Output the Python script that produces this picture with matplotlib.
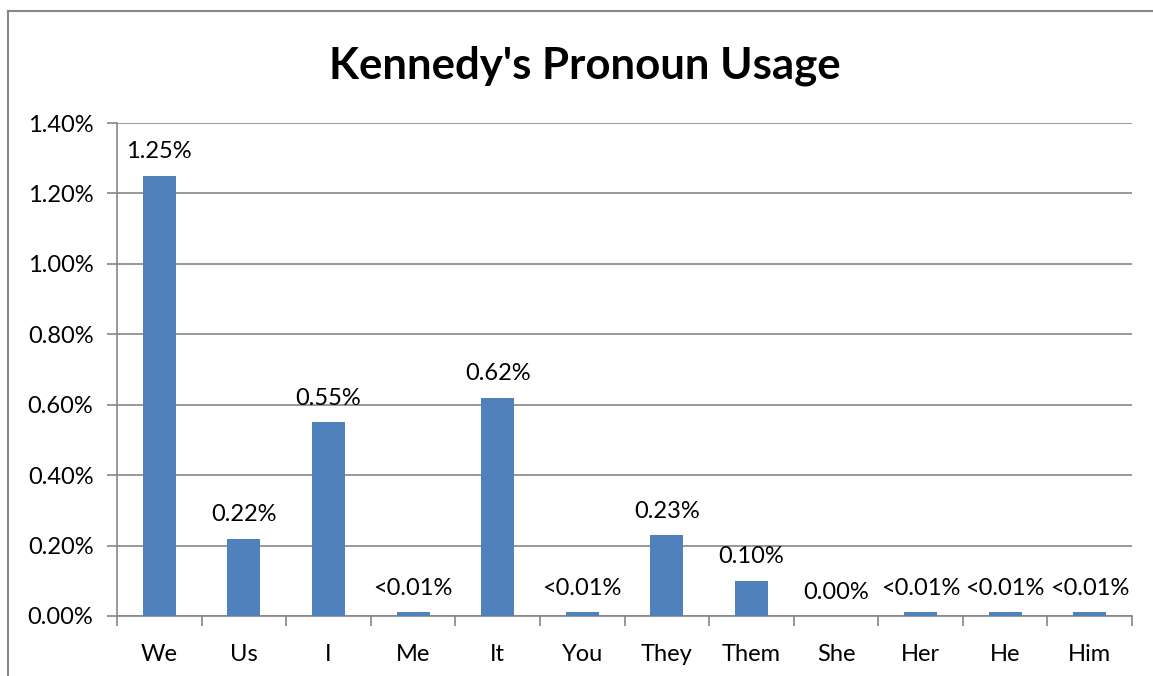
import matplotlib.pyplot as plt
from matplotlib.lines import Line2D
from matplotlib.ticker import FuncFormatter, MultipleLocator

pronouns = ["We", "Us", "I", "Me", "It", "You", "They", "Them", "She", "Her", "He", "Him"]
usage = [1.25, 0.22, 0.55, 0.01, 0.62, 0.01, 0.23, 0.10, 0.00, 0.01, 0.01, 0.01]
labels = ["1.25%", "0.22%", "0.55%", "<0.01%", "0.62%", "<0.01%", "0.23%", "0.10%",
          "0.00%", "<0.01%", "<0.01%", "<0.01%"]

plt.rcParams['font.family'] = ['Lato', 'DejaVu Sans']

fig = plt.figure(figsize=(11.53, 6.76), dpi=100)
ax = fig.add_axes([0.1015, 0.0888, 0.8803, 0.7292])

x = range(len(pronouns))
ax.bar(x, usage, width=0.39, color="#4F81BD", zorder=3)

for i, (v, s) in enumerate(zip(usage, labels)):
    ax.text(i, v + 0.038, s, ha="center", va="bottom", fontsize=17, color="black")

ax.set_xlim(-0.5, len(pronouns) - 0.5)
ax.set_ylim(0, 1.4)
ax.yaxis.set_major_locator(MultipleLocator(0.2))
ax.yaxis.set_major_formatter(FuncFormatter(lambda v, p: "%.2f%%" % v))
ax.grid(axis="y", color="#868686", linewidth=1.2, zorder=0)

# category labels sit between boundary ticks
ax.set_xticks([i - 0.5 for i in range(len(pronouns) + 1)])
ax.set_xticklabels([])
ax.set_xticks(list(x), minor=True)
ax.set_xticklabels(pronouns, minor=True, fontsize=17)
ax.tick_params(axis="x", which="major", direction="out", length=7, width=1.2, color="#868686")
ax.tick_params(axis="x", which="minor", length=0, pad=20)
ax.tick_params(axis="y", direction="out", length=7, width=1.2, color="#868686",
               labelsize=17, pad=10)

for side in ["top", "right"]:
    ax.spines[side].set_visible(False)
ax.spines["left"].set_color("#868686")
ax.spines["bottom"].set_color("#868686")
ax.spines["left"].set_linewidth(1.2)
ax.spines["bottom"].set_linewidth(1.2)

fig.text(0.507, 0.903, "Kennedy's Pronoun Usage", ha="center", va="center",
         fontsize=31.5, fontweight="bold")

# chart frame edges
fig.add_artist(Line2D([8 / 1153, 8 / 1153], [0, 1 - 11 / 676], transform=fig.transFigure,
                      color="#878787", linewidth=1.5))
fig.add_artist(Line2D([8 / 1153, 1], [1 - 11 / 676, 1 - 11 / 676], transform=fig.transFigure,
                      color="#878787", linewidth=1.5))

fig.savefig("out.png", dpi=100)
